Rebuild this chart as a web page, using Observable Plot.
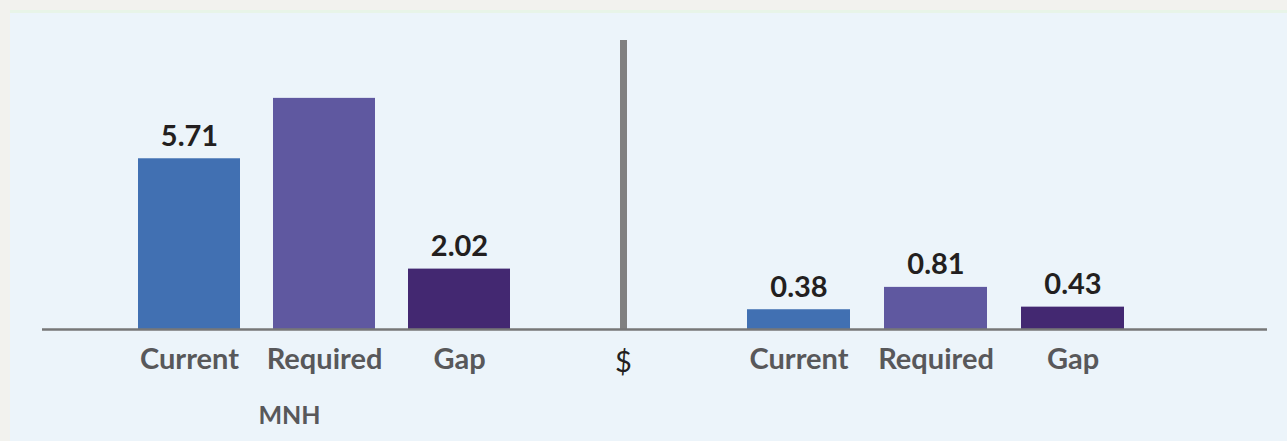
<!DOCTYPE html>
<html>
<head>
<meta charset="utf-8">
<script src="https://cdn.jsdelivr.net/npm/d3@7"></script>
<script src="https://cdn.jsdelivr.net/npm/@observablehq/plot@0.6"></script>
<style>
  html, body { margin: 0; padding: 0; background: #f2f2ee; }
  #wrap { position: relative; width: 1287px; height: 441px; overflow: hidden; background: #f2f2ee; font-family: Lato, sans-serif; }
  #strip { position: absolute; left: 10px; top: 10px; width: 1277px; height: 3px; background: #e8f4e8; }
  #panel { position: absolute; left: 10px; top: 13px; width: 1277px; height: 428px; background: #ecf4fa; }
  .part { position: absolute; top: 0; }
  .part svg { display: block; }
</style>
</head>
<body>
<div id="wrap">
  <div id="strip"></div>
  <div id="panel"></div>
  <div id="left" class="part" style="left:42px"></div>
  <div id="mid" class="part" style="left:536px"></div>
  <div id="right" class="part" style="left:690px"></div>
</div>
<script>
const categories = ["Current", "Required", "Gap"];
const mnhValues = [5.71, 7.73, 2.02];
const mnhLabels = ["5.71", null, "2.02"];
const usdValues = [0.38, 0.81, 0.43];
const usdLabels = ["0.38", "0.81", "0.43"];
const unitLabels = ["MNH", "$"];
const barColors = ["#4170b2", "#5f58a0", "#432871"];

const H = 441;
const baseStyle = {background: "transparent", color: "#58585a", fontFamily: "Lato, sans-serif", overflow: "visible"};

function rows(values, labels) {
  return categories.map((c, i) => ({cat: c, value: values[i], label: labels[i]}));
}

function barPlot(data, {width, yDomain, marginTop, xRange, padding, unit}) {
  const marks = [
    Plot.barY(data, {x: "cat", y: "value", fill: "cat"}),
    Plot.ruleY([0], {stroke: "#777777", strokeWidth: 2.3}),
    Plot.text(data.filter(d => d.label != null), {
      x: "cat", y: "value", text: "label", dy: -13, lineAnchor: "bottom",
      fontSize: 29, fontWeight: "bold", fill: "#231f20"
    }),
    Plot.axisX({tickSize: 0, tickPadding: 19, fontSize: 29, fontWeight: "bold", label: null})
  ];
  if (unit) {
    marks.push(Plot.text([unit], {
      frameAnchor: "bottom", dy: 94, lineAnchor: "bottom",
      fontSize: 25, fontWeight: "bold", fill: "#58585a"
    }));
  }
  return Plot.plot({
    width, height: H,
    marginLeft: 0, marginRight: 0, marginTop, marginBottom: 112,
    style: baseStyle,
    x: {type: "band", domain: categories, range: xRange, padding},
    y: {domain: yDomain, axis: null},
    color: {domain: categories, range: barColors},
    marks
  });
}

document.getElementById("left").append(barPlot(rows(mnhValues, mnhLabels), {
  width: 494, yDomain: [0, 10], marginTop: 30, xRange: [62, 502], padding: 0.245, unit: unitLabels[0]
}));

document.getElementById("right").append(barPlot(rows(usdValues, usdLabels), {
  width: 577, yDomain: [0, 5], marginTop: 69, xRange: [23, 468], padding: 0.248
}));

document.getElementById("mid").append(Plot.plot({
  width: 154, height: H,
  marginLeft: 0, marginRight: 0, marginTop: 40, marginBottom: 112,
  style: {...baseStyle, color: "#231f20"},
  x: {type: "band", domain: [unitLabels[1]], range: [50, 124]},
  y: {domain: [0, 1], axis: null},
  marks: [
    Plot.ruleX([unitLabels[1]], {stroke: "#808080", strokeWidth: 7}),
    Plot.ruleY([0], {stroke: "#777777", strokeWidth: 2.3}),
    Plot.axisX({tickSize: 0, tickPadding: 22, fontSize: 29, label: null})
  ]
}));
</script>
</body>
</html>
